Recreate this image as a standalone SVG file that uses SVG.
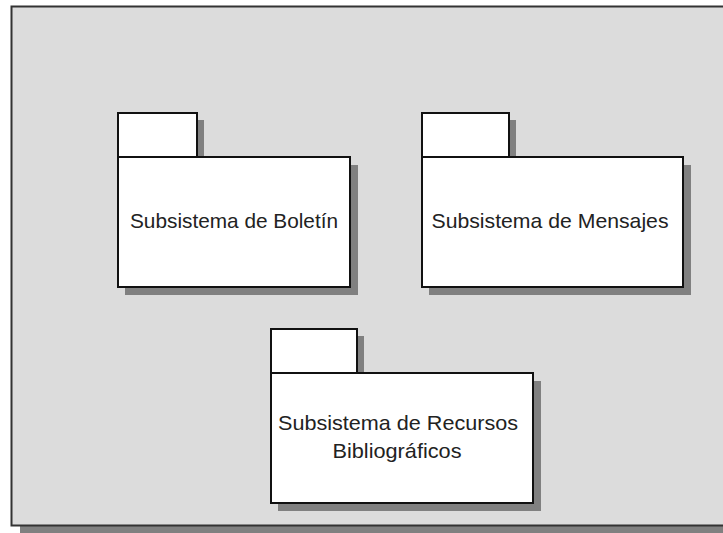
<svg xmlns="http://www.w3.org/2000/svg" width="723" height="533" viewBox="0 0 723 533">
<style>
.frame{fill:#dcdcdc;stroke:#333;stroke-width:2}
.shadow{fill:#808080}
.box{fill:#fff;stroke:#111;stroke-width:2}
.lbl{font-family:"Liberation Sans",Arial,sans-serif;font-size:21px;fill:#222}
</style>
<rect width="723" height="533" fill="#fff"/>
<rect x="20" y="526" width="710" height="10" class="shadow"/>
<rect x="11.5" y="6.5" width="720" height="519" class="frame"/>
<g id="boletin">
<rect x="125" y="120" width="79" height="45" class="shadow"/>
<rect x="125" y="165" width="233" height="130" class="shadow"/>
<rect x="118" y="113" width="79" height="44" class="box"/>
<rect x="118" y="157" width="232" height="130" class="box"/>
<text x="234" y="228" text-anchor="middle" class="lbl" textLength="208" lengthAdjust="spacingAndGlyphs">Subsistema de Boletín</text>
</g>
<g id="mensajes">
<rect x="429" y="120" width="87" height="45" class="shadow"/>
<rect x="429" y="165" width="262" height="130" class="shadow"/>
<rect x="422" y="113" width="87" height="44" class="box"/>
<rect x="422" y="157" width="261" height="130" class="box"/>
<text x="550" y="228" text-anchor="middle" class="lbl" textLength="237" lengthAdjust="spacingAndGlyphs">Subsistema de Mensajes</text>
</g>
<g id="recursos">
<rect x="278" y="336" width="86" height="45" class="shadow"/>
<rect x="278" y="381" width="263" height="130" class="shadow"/>
<rect x="271" y="329" width="86" height="44" class="box"/>
<rect x="271" y="373" width="262" height="130" class="box"/>
<text x="398" y="430" text-anchor="middle" class="lbl" textLength="240" lengthAdjust="spacingAndGlyphs">Subsistema de Recursos</text>
<text x="397" y="458" text-anchor="middle" class="lbl" textLength="129" lengthAdjust="spacingAndGlyphs">Bibliográficos</text>
</g>
<g id="connectors"></g>
</svg>
